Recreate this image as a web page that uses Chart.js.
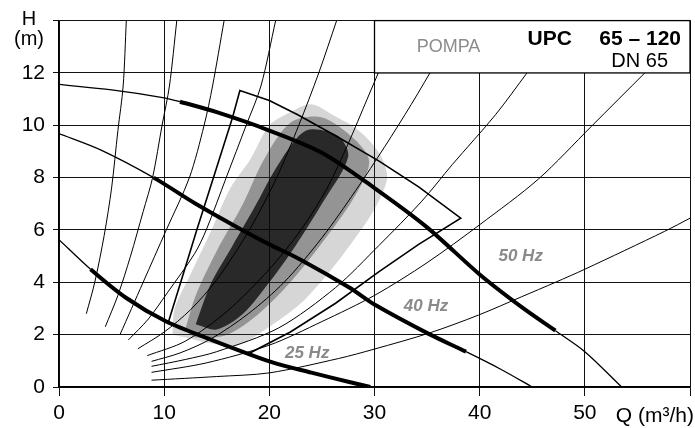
<!DOCTYPE html>
<html>
<head>
<meta charset="utf-8">
<title>UPC 65-120</title>
<script src="https://cdn.jsdelivr.net/npm/chart.js@4.4.1/dist/chart.umd.min.js"></script>
<style>
  html, body { margin: 0; padding: 0; background: #fff; }
</style>
</head>
<body>
<canvas id="pumpChart" width="695" height="428"></canvas>
<script>
"use strict"

//axis ticks
const qTicks = [0, 10, 20, 30, 40, 50, 60];
const hTicks = [0, 2, 4, 6, 8, 10, 12, 14];

//pump curves, Q (m3/h) and H (m), plus the bold working range
const q50 = [0, 5, 10, 11.5, 15, 20, 25, 30, 35, 40, 44, 47.2, 50, 53.5];
const h50 = [11.56, 11.35, 11.05, 10.9, 10.5, 9.8, 8.95, 7.6, 6.1, 4.3, 3.05, 2.15, 1.35, 0];
const bold50 = [11.5, 47.2];
const q40 = [0, 4, 9, 13, 17.4, 20, 22.8, 27.6, 30, 35.2, 38.7, 42, 45];
const h40 = [9.68, 9.05, 8.0, 7.0, 6.0, 5.45, 4.9, 3.8, 3.15, 2.02, 1.35, 0.68, 0];
const bold40 = [9, 38.7];
const q25 = [0, 3, 6.4, 10.2, 14, 20.3, 24, 27.6, 29.6];
const h25 = [5.63, 4.5, 3.4, 2.5, 1.88, 0.94, 0.55, 0.19, 0];
const bold25 = [3, 29.6];

const hzLabels = ["50 Hz", "40 Hz", "25 Hz"];
const hzLabelQ = [43.9, 34.9, 23.6];
const hzLabelH = [5.0, 3.1, 1.3];

//thin system curves
const sysQ = [
  [2.6, 3.4, 4.3, 5.0, 5.6, 6.1, 6.4],
  [4.4, 5.6, 6.8, 8.0, 8.9, 9.8, 10.5, 11.2],
  [5.8, 6.9, 8, 10.2, 12.4, 13.8, 14.6, 15.7],
  [6.6, 8.5, 10.3, 12.9, 14.0, 15.9, 17.8, 19.2, 20.6],
  [7.5, 10, 12.5, 15, 18.1, 20.7, 22.8, 24.7, 26.4],
  [8.4, 12, 16, 20, 23, 25.5, 27.5, 29.3, 31],
  [8.8, 11.5, 14.5, 18, 21.4, 25, 28.2, 31, 33.5, 36],
  [8.8, 12, 15, 20.9, 26.3, 30.4, 34.5, 37.4, 41.5, 44.5],
  [8.8, 14, 20, 25, 30, 35, 40, 45.6, 50.6, 55.7],
  [8.8, 15, 20, 26.6, 30, 35.2, 39.9, 44, 47.2, 50, 57.6, 60]
];
const sysH = [
  [2.8, 4, 5.8, 7.6, 9.8, 11.5, 14],
  [2.3, 3.5, 5, 6.7, 8, 10, 11.5, 14],
  [2, 3, 4, 6, 8, 10, 11.5, 14],
  [1.8, 2.6, 3.6, 5.1, 6, 8, 10, 11.5, 14],
  [1.46, 2.1, 2.95, 4.1, 6, 8, 10, 12, 14],
  [1.2, 1.75, 2.9, 4.5, 6.0, 7.6, 9.3, 11, 12.6],
  [0.98, 1.3, 1.85, 2.8, 4.0, 5.7, 7.5, 9.2, 10.8, 12.5],
  [0.79, 1.05, 1.35, 2.26, 3.8, 5.4, 7.1, 8.5, 10.4, 12],
  [0.56, 0.92, 1.6, 2.5, 3.5, 4.75, 6.2, 7.95, 9.95, 12],
  [0.26, 0.4, 0.54, 1.09, 1.45, 2.06, 2.75, 3.45, 4.0, 4.5, 5.95, 6.45]
];

//recommended working field (closed outline)
const fieldQ = [10.4, 11.8, 13.1, 15, 16.5, 17.2, 20, 22.7, 26.3, 30.4, 34.2, 38.2, 34.2, 30.4, 26.3, 22, 18, 14, 10.4];
const fieldH = [2.47, 4.3, 6.0, 8.4, 10.3, 11.33, 10.95, 10.4, 9.6, 8.64, 7.65, 6.45, 5.45, 4.4, 3.2, 2.1, 1.27, 1.88, 2.47];

//shaded band of best efficiency, outer to inner
const bandQ = [
  [10.8, 11, 12.5, 14.5, 16.3, 18.2, 20, 22, 24, 26, 28.5, 30.5, 31.2, 30, 28, 25.5, 23, 20, 17, 14, 12, 10.8],
  [12, 13, 15, 17.5, 19.5, 22, 25, 28, 29.5, 28, 25, 22, 19, 16, 13, 12],
  [13, 14.5, 16.5, 18.5, 21, 23.5, 26.5, 27.5, 25, 22.5, 20, 17.5, 15, 13]
];
const bandH = [
  [2.0, 3.0, 4.3, 6.0, 7.6, 8.7, 10.0, 10.5, 10.8, 10.4, 9.8, 8.9, 8.0, 6.8, 5.6, 4.3, 3.2, 2.3, 1.6, 1.7, 1.9, 2.0],
  [2.2, 3.5, 5.2, 7.0, 8.7, 10.1, 10.3, 9.5, 8.6, 7.2, 5.5, 4.0, 2.8, 2.0, 1.9, 2.2],
  [2.4, 4.0, 5.4, 6.8, 8.6, 9.8, 9.6, 8.8, 7.0, 5.4, 4.0, 2.8, 2.2, 2.4]
];
const bandColors = ["rgba(70, 70, 70, 0.22)", "rgba(40, 40, 40, 0.38)", "rgba(0, 0, 0, 0.72)"];

//title box in the upper right corner
const boxQ = [30, 60];
const boxH = [12, 14];

const FONT = "'Liberation Sans', Arial, Helvetica, sans-serif";

function toPoints(qs, hs) {
  return qs.map((q, i) => ({ x: q, y: hs[i] }));
}

function pumpDataset(qs, hs, bold) {
  return {
    data: toPoints(qs, hs),
    borderColor: "#000",
    borderWidth: 1.3,
    tension: 0.3,
    pointRadius: 0,
    order: 1,
    segment: {
      borderWidth: ctx => (ctx.p0.parsed.x >= bold[0] - 0.01 && ctx.p1.parsed.x <= bold[1] + 0.01) ? 4 : 1.3
    }
  };
}

const datasets = [];
datasets.push(pumpDataset(q50, h50, bold50));
datasets.push(pumpDataset(q40, h40, bold40));
datasets.push(pumpDataset(q25, h25, bold25));

for (let i = 0; i < sysQ.length; i++) {
  datasets.push({
    data: toPoints(sysQ[i], sysH[i]),
    borderColor: "#000",
    borderWidth: 1,
    tension: 0.3,
    pointRadius: 0,
    order: 3
  });
}

datasets.push({
  data: toPoints(fieldQ, fieldH),
  borderColor: "#000",
  borderWidth: 1.6,
  tension: 0,
  pointRadius: 0,
  order: 2
});

for (let i = 0; i < bandQ.length; i++) {
  datasets.push({
    data: toPoints(bandQ[i], bandH[i]),
    borderWidth: 0,
    borderColor: "rgba(0,0,0,0)",
    backgroundColor: bandColors[i],
    fill: "shape",
    tension: 0.3,
    pointRadius: 0,
    order: 10 - i
  });
}

const textPlugin = {
  id: "chartTexts",
  afterDatasetsDraw(chart) {
    const ctx = chart.ctx;
    const xs = chart.scales.x;
    const ys = chart.scales.y;

    //Hz labels
    ctx.save();
    ctx.font = "italic bold 17px " + FONT;
    ctx.fillStyle = "#8a8a8a";
    ctx.textAlign = "center";
    ctx.textBaseline = "middle";
    for (let i = 0; i < hzLabels.length; i++) {
      ctx.fillText(hzLabels[i], xs.getPixelForValue(hzLabelQ[i]), ys.getPixelForValue(hzLabelH[i]));
    }

    //title box
    const left = xs.getPixelForValue(boxQ[0]);
    const right = xs.getPixelForValue(boxQ[1]);
    const top = ys.getPixelForValue(boxH[1]);
    const bottom = ys.getPixelForValue(boxH[0]);
    ctx.fillStyle = "#fff";
    ctx.fillRect(left, top, right - left, bottom - top);
    ctx.strokeStyle = "#000";
    ctx.lineWidth = 1.3;
    ctx.strokeRect(left, top, right - left, bottom - top);

    ctx.textBaseline = "alphabetic";
    ctx.font = "18px " + FONT;
    ctx.fillStyle = "#8c8c8c";
    ctx.textAlign = "center";
    ctx.fillText("POMPA", left + 74, top + 31);

    ctx.fillStyle = "#000";
    ctx.font = "bold 21px " + FONT;
    ctx.textAlign = "left";
    ctx.fillText("UPC", left + 153, top + 24);
    ctx.textAlign = "right";
    ctx.fillText("65 \u2013 120", right - 9, top + 24);
    ctx.font = "20px " + FONT;
    ctx.fillText("DN 65", right - 22, top + 46);
    ctx.restore();
  },
  afterDraw(chart) {
    const ctx = chart.ctx;
    ctx.save();
    ctx.fillStyle = "#000";
    ctx.font = "20px " + FONT;
    ctx.textAlign = "center";
    ctx.fillText("H", 29, 25);
    ctx.fillText("(m)", 29, 45);
    ctx.textAlign = "right";
    ctx.font = "21px " + FONT;
    ctx.fillText("Q (m\u00b3/h)", 694, 422);
    ctx.restore();
  }
};

const pumpChart = new Chart(document.getElementById("pumpChart"), {
  type: "line",
  data: { datasets: datasets },
  plugins: [textPlugin],
  options: {
    responsive: false,
    animation: false,
    layout: { padding: { left: 0, right: 5, top: 13, bottom: 0 } },
    plugins: {
      legend: { display: false },
      tooltip: { enabled: false }
    },
    scales: {
      x: {
        type: "linear",
        min: qTicks[0],
        max: qTicks[qTicks.length - 1],
        afterBuildTicks: axis => { axis.ticks = qTicks.map(v => ({ value: v })); },
        afterFit: axis => { axis.height = 41; },
        grid: { color: "#111", lineWidth: 1, tickLength: 9, tickColor: "#111" },
        border: { color: "#000", width: 1.4 },
        ticks: {
          color: "#000",
          padding: 5,
          font: { family: FONT, size: 21 },
          callback: v => v === 60 ? "" : v
        }
      },
      y: {
        type: "linear",
        min: hTicks[0],
        max: hTicks[hTicks.length - 1],
        afterBuildTicks: axis => { axis.ticks = hTicks.map(v => ({ value: v })); },
        afterFit: axis => { axis.width = 59; },
        grid: { color: "#111", lineWidth: 1, tickLength: 6, tickColor: "#111" },
        border: { color: "#000", width: 1.4 },
        ticks: {
          color: "#000",
          padding: 8,
          font: { family: FONT, size: 21 },
          callback: v => v === 14 ? "" : v
        }
      }
    }
  }
});
</script>
</body>
</html>
